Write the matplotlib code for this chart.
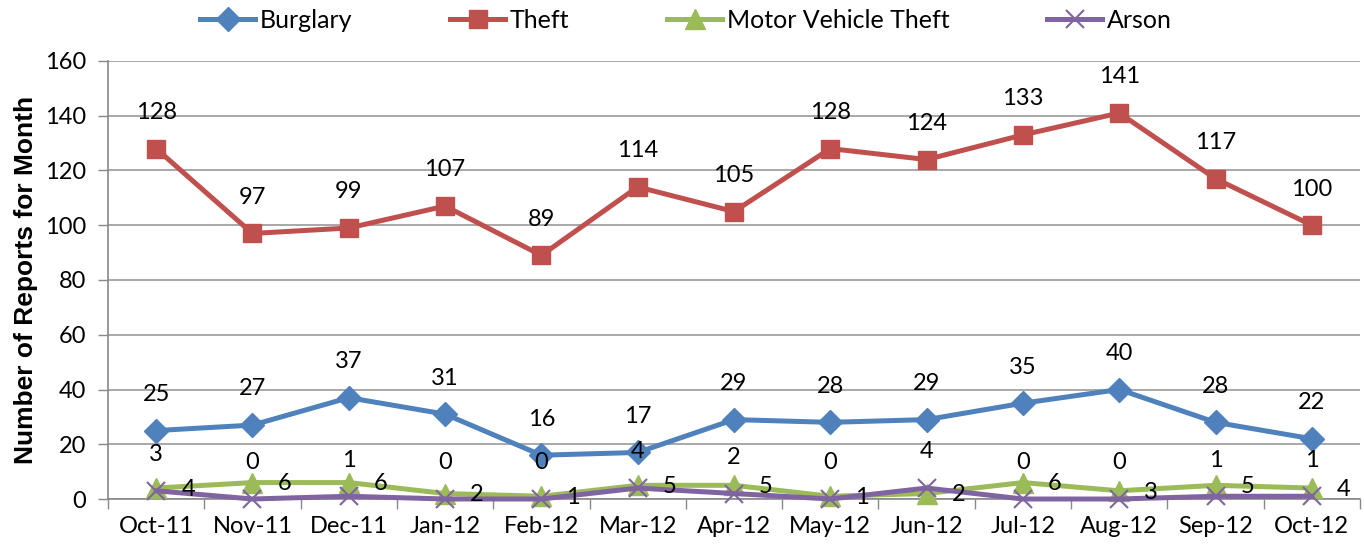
import matplotlib
matplotlib.use("Agg")
import matplotlib.pyplot as plt
from matplotlib.ticker import MultipleLocator, FixedLocator

months = ["Oct-11", "Nov-11", "Dec-11", "Jan-12", "Feb-12", "Mar-12", "Apr-12",
          "May-12", "Jun-12", "Jul-12", "Aug-12", "Sep-12", "Oct-12"]
burglary = [25, 27, 37, 31, 16, 17, 29, 28, 29, 35, 40, 28, 22]
theft = [128, 97, 99, 107, 89, 114, 105, 128, 124, 133, 141, 117, 100]
mvt = [4, 6, 6, 2, 1, 5, 5, 1, 2, 6, 3, 5, 4]
arson = [3, 0, 1, 0, 0, 4, 2, 0, 4, 0, 0, 1, 1]

FONT = "Lato"
FS = 17
fig = plt.figure(figsize=(13.64, 5.5), dpi=100)
ax = fig.add_axes([108/1364, 1 - 499/550, (1360-108)/1364, (499-61)/550])

x = list(range(len(months)))
series = [
    ("Burglary", burglary, "#4F81BD", "D", 12, "above"),
    ("Theft", theft, "#C0504D", "s", 13, "above"),
    ("Motor Vehicle Theft", mvt, "#9BBB59", "^", 14, "right"),
    ("Arson", arson, "#8064A2", "x", 13, "above"),
]
for name, vals, col, mk, ms, pos in series:
    kw = dict(markeredgewidth=1.5) if mk == "x" else dict(markeredgecolor=col)
    ax.plot(x, vals, color=col, lw=3.6, marker=mk, markersize=ms,
            markerfacecolor=col, label=name, clip_on=False, zorder=3, **kw)
    for xi, v in zip(x, vals):
        if pos == "above":
            ax.annotate(str(v), (xi, v), xytext=(0, 26), textcoords="offset points",
                        ha="center", va="center", fontsize=FS, family=FONT, zorder=5)
        else:
            ax.annotate(str(v), (xi, v), xytext=(23, -1), textcoords="offset points",
                        ha="center", va="center", fontsize=FS, family=FONT, zorder=5)

ax.set_xlim(-0.5, len(months) - 0.5)
ax.set_ylim(0, 160)
ax.yaxis.set_major_locator(MultipleLocator(20))
ax.set_xticks(x)
ax.set_xticklabels(months, family=FONT, fontsize=FS)
ax.xaxis.set_minor_locator(FixedLocator([i + 0.5 for i in range(-1, len(months))]))
ax.tick_params(axis="x", which="major", length=0, pad=12)
ax.tick_params(axis="x", which="minor", length=7, color="#888888", width=1)
ax.tick_params(axis="y", length=7, color="#888888", width=1, labelsize=FS, pad=9)
for lab in ax.get_yticklabels():
    lab.set_family(FONT)
ax.grid(axis="y", color="#999999", lw=1.2)
ax.set_axisbelow(True)
for s in ["top", "right"]:
    ax.spines[s].set_visible(False)
for s in ["left", "bottom"]:
    ax.spines[s].set_color("#888888")
    ax.spines[s].set_linewidth(1.2)

ax.set_ylabel("Number of Reports for Month", fontsize=19, fontweight="bold",
              family="Liberation Sans", labelpad=5)

leg = fig.legend(loc="center", bbox_to_anchor=(0.503, 1 - 20/550), ncol=4, frameon=False,
                 prop={"family": FONT, "size": 18}, handlelength=2.2, handletextpad=0.2,
                 columnspacing=3.9)

fig.savefig("out.png", dpi=100)
